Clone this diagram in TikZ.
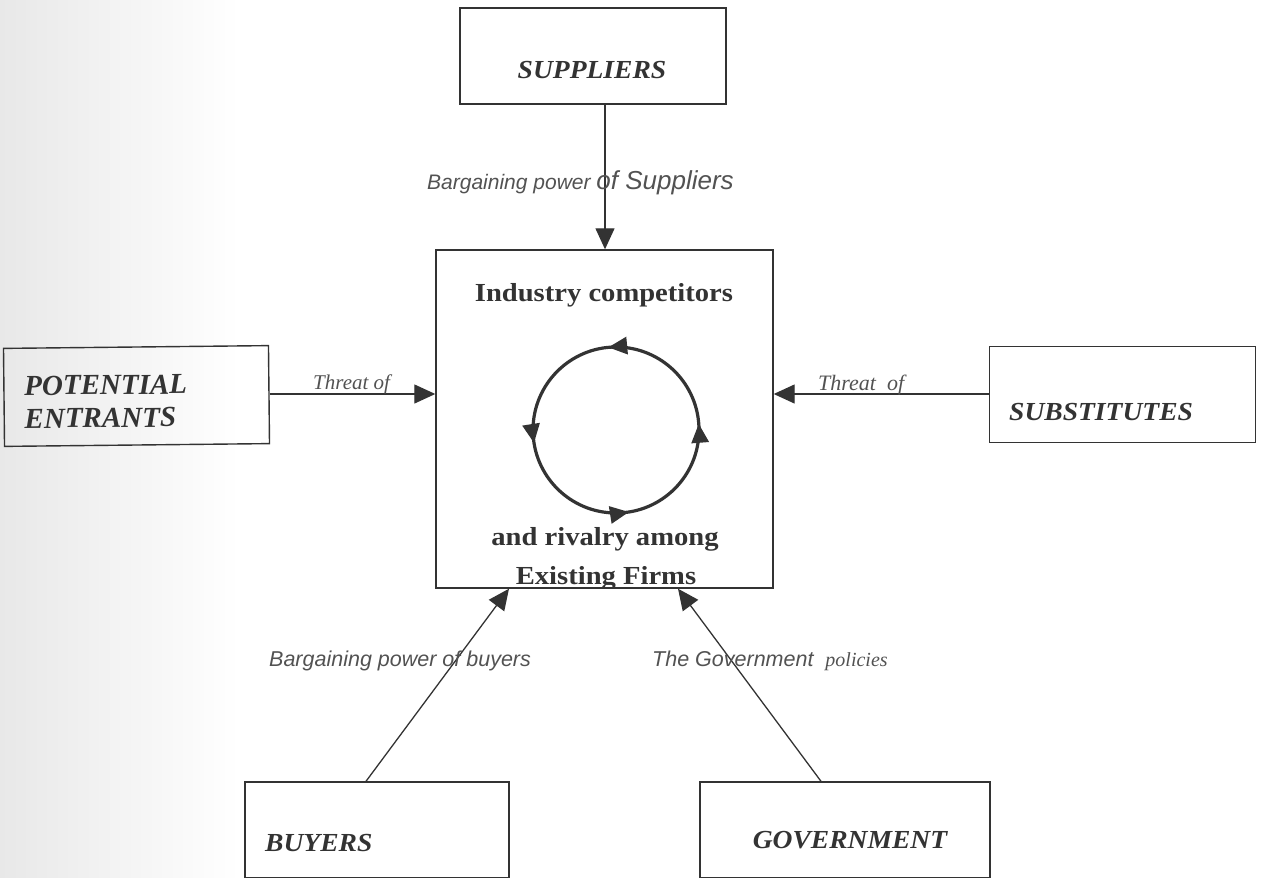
\documentclass[tikz,border=0pt]{standalone}
\usepackage{fontspec}
\setmainfont{Liberation Serif}
\newfontfamily\boxfont[FakeStretch=1.06]{Liberation Serif}
\newfontfamily\midfont[FakeStretch=1.1]{Liberation Serif}
\newfontfamily\sansit{Liberation Sans}
\usetikzlibrary{arrows.meta,decorations.markings,calc}
\definecolor{ink}{HTML}{333333}
\begin{document}
\begin{tikzpicture}[x=1pt,y=1pt,
  box/.style={draw=ink,line width=1.4pt,inner sep=0pt,rectangle},
  boxtext/.style={text=ink,inner sep=0pt,font=\boxfont\bfseries\itshape\fontsize{26}{30}\selectfont},
  midtext/.style={text=ink,inner sep=0pt,font=\midfont\bfseries\fontsize{26}{30}\selectfont},
  lbl/.style={text=ink!85,inner sep=0pt},
  arr/.style={draw=ink,line width=1.3pt,-{Triangle[length=21pt,width=19pt]}},
]
\useasboundingbox (0,0) rectangle (1264,-878);
\shade[left color=black!9,right color=white] (0,0) rectangle (240,-878);

% boxes
\node[box,minimum width=266pt,minimum height=96pt] (sup) at (593,-56) {};
\node[box,minimum width=337pt,minimum height=338pt] (ind) at (604.5,-419) {};
\node[box,minimum width=265pt,minimum height=98pt,rotate=0.6] (pe) at (136.5,-396) {};
\node[box,minimum width=266pt,minimum height=96pt] (sub) at (1122.5,-394.5) {};
\node[box,minimum width=264pt,minimum height=96pt] (buy) at (377,-830) {};
\node[box,minimum width=290pt,minimum height=96pt] (gov) at (845,-830) {};

% box texts
\node[boxtext] (suptext) at (592,-70) {SUPPLIERS};
\node[boxtext,anchor=west] (subtext) at (1009,-412) {SUBSTITUTES};
\node[boxtext,anchor=west] (buytext) at (265,-843) {BUYERS};
\node[boxtext] (govtext) at (850,-840) {GOVERNMENT};
\node[text=ink,inner sep=0pt,anchor=north west,align=left,rotate=0.6,
  font=\bfseries\itshape\fontsize{29}{33}\selectfont] (petext) at (24,-376) {POTENTIAL\\ENTRANTS};

% centre texts
\node[midtext] (t1) at (604,-295) {Industry competitors};
\node[midtext] (t2) at (605,-539) {and rivalry among};
\begin{scope}
  \clip ([yshift=1pt]ind.south west) rectangle ([yshift=-1pt]ind.north east);
  \node[midtext,anchor=base] (t3) at (606,-584) {Existing Firms};
\end{scope}

% rivalry circle
\coordinate (cc) at (616,-430);
\draw[ink,line width=3.2pt,
  decoration={markings,
    mark=at position 0.012 with {\arrow{Triangle[length=19pt,width=17pt]}},
    mark=at position 0.265 with {\arrow{Triangle[length=19pt,width=17pt]}},
    mark=at position 0.525 with {\arrow{Triangle[length=19pt,width=17pt]}},
    mark=at position 0.775 with {\arrow{Triangle[length=19pt,width=17pt]}}},
  postaction={decorate}] (cc) ++(83,0) arc[start angle=0,end angle=360,radius=83];

% connectors
\draw[arr] ([xshift=12pt]sup.south) -- ([xshift=12pt]sup.south |- ind.north);
\coordinate (lin) at ([yshift=25pt]ind.west);
\coordinate (rin) at ([yshift=25pt]ind.east);
\draw[arr] (pe.east |- lin) -- (lin);
\draw[arr] (sub.west |- rin) -- (rin);
\draw[arr] ([xshift=-11pt]buy.north) -- ([xshift=-95.5pt]ind.south);
\draw[arr] ([xshift=-24pt]gov.north) -- ([xshift=73.5pt]ind.south);

% connector labels
\node[lbl,anchor=west] (lsup) at (427,-183) {\sansit\itshape\fontsize{21}{24}\selectfont Bargaining power \fontsize{26}{28}\selectfont of Suppliers};
\node[lbl,anchor=west] (lpe) at (313,-384) {\itshape\fontsize{21}{24}\selectfont Threat of};
\node[lbl,anchor=west] (lsub) at (818,-385) {\itshape\fontsize{22}{24}\selectfont Threat\ \ of};
\node[lbl,anchor=west] (lbuy) at (269,-661) {\sansit\itshape\fontsize{21.5}{24}\selectfont Bargaining power of buyers};
\node[lbl,anchor=west] (lgov) at (652,-661) {\sansit\itshape\fontsize{21.5}{24}\selectfont The Government\ \ \rmfamily\itshape\fontsize{20}{24}\selectfont policies};
\end{tikzpicture}
\end{document}
